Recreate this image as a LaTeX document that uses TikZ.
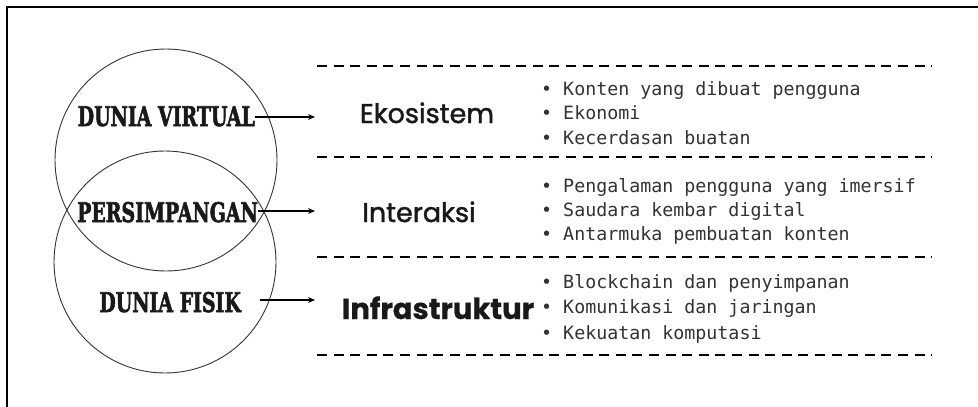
\documentclass[tikz,border=0pt]{standalone}
\usepackage{fontspec}
\usetikzlibrary{arrows.meta}
\newfontfamily\slabfont{DejaVu Serif}[BoldFeatures={FakeBold=2.5}]
\newfontfamily\catfont{Poppins}[FakeBold=1.5, BoldFeatures={FakeBold=0.5}]
\newfontfamily\monofont{DejaVu Sans Mono}
\definecolor{txtgray}{HTML}{333333}
\newcommand{\slabtext}[1]{\scalebox{0.70}[1]{#1}}
\tikzset{
  frame/.style={line width=2.4pt},
  venn/.style={line width=0.9pt, draw=black!80},
  slab/.style={font=\slabfont\bfseries\fontsize{27}{27}\selectfont, text=black!90, inner sep=0pt, anchor=base east},
  cat/.style={font=\catfont\fontsize{27}{27}\selectfont, text=black!90, inner sep=0pt, anchor=base},
  bullet/.style={font=\monofont\fontsize{18.3}{18.3}\selectfont, text=txtgray, inner sep=0pt, anchor=base west},
  sep/.style={line width=2.5pt, dash pattern=on 10pt off 6.6pt},
  arr/.style={line width=1.5pt, -{Stealth[length=7pt,width=6pt]}}
}
\begin{document}
\begin{tikzpicture}[x=1pt,y=-1pt]
\useasboundingbox (0,0) rectangle (978,407);
% frame
\draw[frame] (7,407) -- (7,7) -- (978,7);
% circles
\draw[venn] (166,160) circle (111);
\draw[venn] (165,262) circle (111);
% left labels
\node[slab] (dv) at (255,126) {\slabtext{DUNIA VIRTUAL}};
\node[slab] (ps) at (258,222) {\slabtext{PERSIMPANGAN}};
\node[slab] (df) at (241,312) {\slabtext{DUNIA FISIK}};
% arrow ends
\coordinate (e1) at (315,117);
\coordinate (e2) at (315,211);
\coordinate (e3) at (315,300);
\draw[arr] (dv.east |- e1) -- (e1);
\draw[arr] (ps.east |- e2) -- (e2);
\draw[arr, shorten <=19pt] (df.east |- e3) -- (e3);
% separators
\coordinate (l1) at (317,66);  \coordinate (r1) at (932,66);
\coordinate (l2) at (317,157); \coordinate (r2) at (932,157);
\coordinate (l3) at (317,257); \coordinate (r3) at (932,257);
\coordinate (l4) at (317,355); \coordinate (r4) at (932,355);
\draw[sep] (l1) -- (r1);
\draw[sep] (l2) -- (r2);
\draw[sep] (l3) -- (r3);
\draw[sep] (l4) -- (r4);
% categories
\node[cat] (eko) at (427,123) {Ekosistem};
\node[cat] (int) at (419,222) {Interaksi};
\node[cat, font=\catfont\bfseries\fontsize{29}{29}\selectfont] (inf) at (438,319) {Infrastruktur};
% bullets
\node[bullet] (b11) at (541,95) {• Konten yang dibuat pengguna};
\node[bullet] (b12) at (541,119) {• Ekonomi};
\node[bullet] (b13) at (541,144) {• Kecerdasan buatan};
\node[bullet] (b21) at (541,192) {• Pengalaman pengguna yang imersif};
\node[bullet] (b22) at (541,216) {• Saudara kembar digital};
\node[bullet] (b23) at (541,240) {• Antarmuka pembuatan konten};
\node[bullet] (b31) at (541,288) {• Blockchain dan penyimpanan};
\node[bullet] (b32) at (541,313) {• Komunikasi dan jaringan};
\node[bullet] (b33) at (541,339) {• Kekuatan komputasi};
\end{tikzpicture}
\end{document}
